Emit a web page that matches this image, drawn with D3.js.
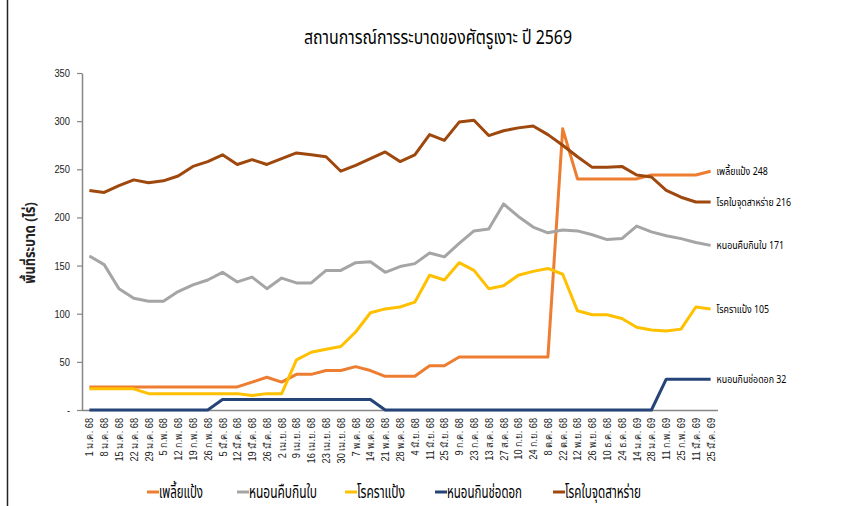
<!DOCTYPE html>
<html>
<head>
<meta charset="utf-8">
<script src="https://cdn.jsdelivr.net/npm/d3@7/dist/d3.min.js"></script>
<style>
  html, body { margin: 0; padding: 0; background: #fff; }
  svg { display: block; font-family: Tahoma, "Noto Sans Thai", "Noto Sans", sans-serif; }
</style>
</head>
<body>
<svg id="chart" width="858" height="506"></svg>
<script>
const title = "สถานการณ์การระบาดของศัตรูเงาะ ปี 2569";
const yTitle = "พื้นที่ระบาด (ไร่)";
const categories = [
  "1 ม.ค. 68","8 ม.ค. 68","15 ม.ค. 68","22 ม.ค. 68","29 ม.ค. 68",
  "5 ก.พ. 68","12 ก.พ. 68","19 ก.พ. 68","26 ก.พ. 68",
  "5 มี.ค. 68","12 มี.ค. 68","19 มี.ค. 68","26 มี.ค. 68",
  "2 เม.ย. 68","9 เม.ย. 68","16 เม.ย. 68","23 เม.ย. 68","30 เม.ย. 68",
  "7 พ.ค. 68","14 พ.ค. 68","21 พ.ค. 68","28 พ.ค. 68",
  "4 มิ.ย. 68","11 มิ.ย. 68","25 มิ.ย. 68",
  "9 ก.ค. 68","23 ก.ค. 68","13 ส.ค. 68","27 ส.ค. 68",
  "10 ก.ย. 68","24 ก.ย. 68","8 ต.ค. 68","22 ต.ค. 68",
  "12 พ.ย. 68","26 พ.ย. 68","10 ธ.ค. 68","24 ธ.ค. 68",
  "14 ม.ค. 69","28 ม.ค. 69","11 ก.พ. 69","25 ก.พ. 69","11 มี.ค. 69","25 มี.ค. 69"
];
const seriesNames = ["เพลี้ยแป้ง","หนอนคืบกินใบ","โรคราแป้ง","หนอนกินช่อดอก","โรคใบจุดสาหร่าย"];
const seriesColors = ["#ED7D31","#A5A5A5","#FFC000","#264478","#9E480E"];
const mealybug = [24,24,24,24,24,24,24,24,24,24,24,29,34,29,37,37,41,41,45,41,35,35,35,46,46,55,55,55,55,55,55,55,292,240,240,240,240,240,244,244,244,244,248];
const looper = [160,151,126,116,113,113,123,130,135,143,133,138,126,137,132,132,145,145,153,154,143,149,152,163,159,173,186,188,214,201,190,184,187,186,182,177,178,191,185,181,178,174,171];
const powderyMildew = [22,22,22,22,17,17,17,17,17,17,17,15,17,17,52,60,63,66,81,101,105,107,112,140,135,153,145,126,129,140,144,147,141,103,99,99,95,86,83,82,84,107,105];
const flowerBorer = [0,0,0,0,0,0,0,0,0,11,11,11,11,11,11,11,11,11,11,11,0,0,0,0,0,0,0,0,0,0,0,0,0,0,0,0,0,0,0,32,32,32,32];
const algalSpot = [228,226,233,239,236,238,243,253,258,265,255,260,255,261,267,265,263,248,254,261,268,258,265,286,280,299,301,285,290,293,295,286,275,263,252,252,253,244,242,228,221,216,216];
const yTicks = [0,50,100,150,200,250,300,350];
const seriesValues = [mealybug, looper, powderyMildew, flowerBorer, algalSpot];

(function draw() {
const svg = d3.select("#chart");
const pLeft = 82, pRight = 718, pTop = 73, pBottom = 410;

const x = d3.scalePoint().domain(categories).range([pLeft, pRight]).padding(0.5);
const y = d3.scaleLinear().domain([0, 350]).range([pBottom, pTop]);

// condense a text element horizontally by a factor (mimics the narrow Thai font)
function condense(sel, f) {
  sel.each(function() {
    const w = this.getComputedTextLength();
    d3.select(this).attr("textLength", w * f).attr("lengthAdjust", "spacingAndGlyphs");
  });
}

// frame line on left
svg.append("line").attr("x1", 7.5).attr("x2", 7.5).attr("y1", 0).attr("y2", 506)
  .attr("stroke", "#222").attr("stroke-width", 1.5);

// title
const t = svg.append("text").attr("x", 438).attr("y", 44).attr("text-anchor", "middle")
  .attr("font-size", 20).attr("fill", "#000").text(title);
condense(t, 0.0); // placeholder, replaced below
t.attr("textLength", 268).attr("lengthAdjust", "spacingAndGlyphs");

// y axis
const yAxis = svg.append("g").attr("transform", `translate(${pLeft},0)`)
  .call(d3.axisLeft(y).tickValues(yTicks).tickSize(5).tickSizeOuter(0)
    .tickFormat(d => d === 0 ? "-" : d));
yAxis.select(".domain").attr("stroke", "#868686").attr("stroke-width", 1.5);
yAxis.selectAll(".tick line").attr("stroke", "#868686").attr("stroke-width", 1.2);
yAxis.selectAll(".tick text").attr("font-size", 11).attr("fill", "#222").attr("x", -12);
condense(yAxis.selectAll(".tick text"), 0.85);

// y title
const yt = svg.append("text").attr("transform", `translate(35,243) rotate(-90)`)
  .attr("text-anchor", "middle").attr("font-size", 15).attr("font-weight", "bold")
  .attr("fill", "#222").text(yTitle);
condense(yt, 0.85);

// x axis
const xAxis = svg.append("g").attr("transform", `translate(0,${pBottom})`)
  .call(d3.axisBottom(x).tickSize(0).tickSizeOuter(0));
xAxis.select(".domain").attr("stroke", "#868686").attr("stroke-width", 1.5)
  .attr("d", `M${pLeft},0.5H${pRight}`);
xAxis.selectAll(".tick text")
  .attr("transform", "rotate(-90)")
  .attr("text-anchor", "end")
  .attr("x", -8).attr("y", 0).attr("dy", "0.35em")
  .attr("font-size", 10).attr("fill", "#222");
condense(xAxis.selectAll(".tick text"), 0.92);

// lines
const line = d3.line().x((d, i) => x(categories[i])).y(d => y(d));
seriesValues.forEach((vals, k) => {
  svg.append("path").datum(vals)
    .attr("fill", "none").attr("stroke", seriesColors[k])
    .attr("stroke-width", 3).attr("stroke-linejoin", "round")
    .attr("d", line);
});
seriesValues.forEach((vals, k) => {
  const lastV = vals[vals.length - 1];
  const lbl = svg.append("text").attr("x", x(categories[categories.length - 1]) + 6)
    .attr("y", y(lastV)).attr("dy", "0.35em")
    .attr("font-size", 11).attr("fill", "#000")
    .text(seriesNames[k] + "  " + lastV);
  condense(lbl, 0.8);
});

// legend
const legendX = [147, 237, 345, 435, 553];
const legendW = [44, 68, 48, 75, 76];
seriesNames.forEach((n, k) => {
  const g = svg.append("g").attr("transform", `translate(${legendX[k]},492)`);
  g.append("line").attr("x1", 0).attr("x2", 12).attr("y1", 0).attr("y2", 0)
    .attr("stroke", seriesColors[k]).attr("stroke-width", 3);
  g.append("text").attr("x", 12).attr("y", 0).attr("dy", "0.35em")
    .attr("font-size", 17).attr("fill", "#000")
    .attr("textLength", legendW[k]).attr("lengthAdjust", "spacingAndGlyphs").text(n);
});
})();
</script>
</body>
</html>
